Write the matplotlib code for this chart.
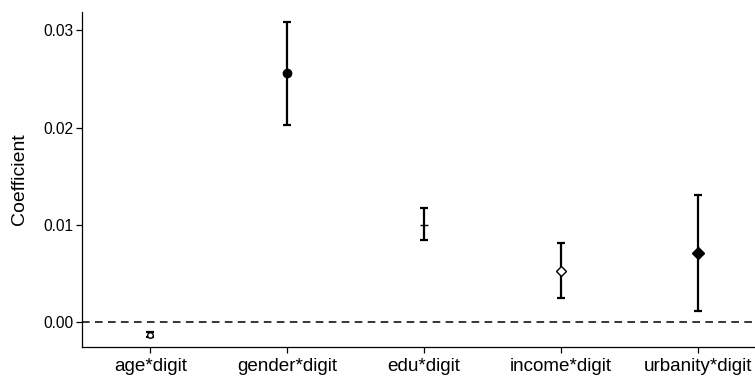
import matplotlib.pyplot as plt

plt.rcParams['font.family'] = ['Liberation Sans', 'DejaVu Sans']

# 数据
terms = ['age*digit', 'gender*digit', 'edu*digit', 'income*digit', 'urbanity*digit']
coef = [-0.00134, 0.0256, 0.0100, 0.0052, 0.0071]
lower = [-0.0016, 0.0203, 0.0084, 0.0024, 0.0011]
upper = [-0.0011, 0.0309, 0.0117, 0.0081, 0.0131]
markers = ['o', 'o', '_', 'D', 'D']
filled = [False, True, False, False, True]
msizes = [4, 6, 6, 5, 6]

fig = plt.figure(figsize=(7.55, 3.77), dpi=100)
ax = fig.add_axes([0.1086, 0.0796, 0.8914, 0.8886])

ax.axhline(0, color='black', linestyle=(0, (5, 3.5)), linewidth=1.1, zorder=1)

for i, t in enumerate(terms):
    err = [[coef[i] - lower[i]], [upper[i] - coef[i]]]
    ax.errorbar(i, coef[i], yerr=err, fmt='none', ecolor='black',
                elinewidth=1.6, capsize=3, capthick=1.6, zorder=2)
    ax.plot(i, coef[i], marker=markers[i], markersize=msizes[i],
            markerfacecolor='black' if filled[i] else 'white',
            markeredgecolor='black', markeredgewidth=1.0,
            linestyle='none', zorder=3)

ax.set_xlim(-0.5, 4.42)
ax.set_ylim(-0.0026, 0.0319)
ax.set_xticks(range(len(terms)))
ax.set_xticklabels(terms, fontsize=13.6)
ax.set_yticks([0.00, 0.01, 0.02, 0.03])
ax.set_yticklabels(['0.00', '0.01', '0.02', '0.03'], fontsize=11.2)
ax.set_ylabel('Coefficient', fontsize=14, labelpad=11)

for s in ['top', 'right']:
    ax.spines[s].set_visible(False)
for s in ['left', 'bottom']:
    ax.spines[s].set_linewidth(0.9)
ax.tick_params(direction='out', length=4, width=0.9, colors='black', pad=2)
ax.tick_params(axis='x', pad=4)

plt.savefig('out.png', dpi=100)
plt.close()
